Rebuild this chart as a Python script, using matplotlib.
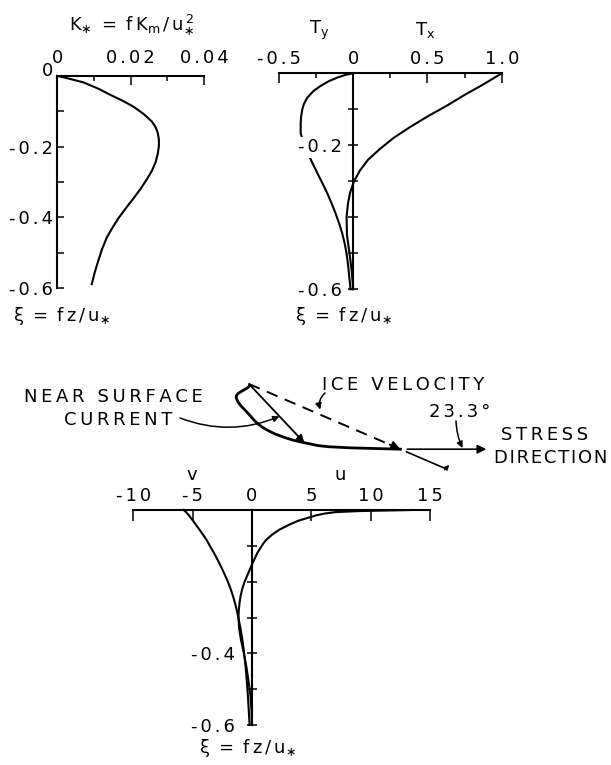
import numpy as np
import matplotlib
matplotlib.use('Agg')
import matplotlib.pyplot as plt
from matplotlib.ticker import FixedLocator, FixedFormatter

plt.rcParams['font.family'] = ['DejaVu Sans']
plt.rcParams['mathtext.default'] = 'regular'
plt.rcParams['axes.unicode_minus'] = False

# ---------------- data ----------------
# eddy viscosity profile K* vs xi
xi_k = [0, -0.006, -0.018, -0.035, -0.053, -0.070, -0.087, -0.108, -0.129, -0.145, -0.161, -0.180,
        -0.198, -0.220, -0.244, -0.268, -0.291, -0.318, -0.346, -0.374, -0.402, -0.430, -0.457,
        -0.490, -0.522, -0.556, -0.589]
k_star = [0, 0.0026, 0.0071, 0.0110, 0.0144, 0.0178, 0.0208, 0.0236, 0.0258, 0.0268, 0.0274, 0.0277,
          0.0277, 0.0274, 0.0268, 0.0258, 0.0245, 0.0228, 0.0208, 0.0187, 0.0167, 0.0150, 0.0135,
          0.0122, 0.0112, 0.0102, 0.0094]

# stress components
xi_tx = [0, -0.02, -0.037, -0.06, -0.09, -0.12, -0.15, -0.18, -0.21, -0.24, -0.27, -0.30,
         -0.33, -0.36, -0.40, -0.45, -0.50, -0.55, -0.60]
tx = [1.0, 0.92, 0.85, 0.75, 0.63, 0.50, 0.38, 0.27, 0.18, 0.10, 0.045, 0.005,
      -0.02, -0.035, -0.045, -0.042, -0.025, -0.01, 0.0]
xi_ty = [0, -0.004, -0.012, -0.022, -0.035, -0.05, -0.068, -0.085, -0.10, -0.12, -0.138, -0.166,
         -0.195, -0.223, -0.25, -0.277, -0.305, -0.333, -0.361, -0.389, -0.417, -0.445,
         -0.472, -0.50, -0.528, -0.556, -0.60]
ty = [0, -0.05, -0.108, -0.165, -0.22, -0.27, -0.31, -0.332, -0.343, -0.351, -0.354, -0.354,
      -0.335, -0.305, -0.274, -0.242, -0.208, -0.175, -0.146, -0.119, -0.095, -0.074,
      -0.058, -0.045, -0.036, -0.029, -0.018]

# velocity components
xi_uv = [0, -0.003, -0.006, -0.01, -0.015, -0.02, -0.03, -0.04, -0.055, -0.07, -0.085, -0.10,
         -0.12, -0.14, -0.16, -0.18, -0.20, -0.22, -0.24, -0.26, -0.28, -0.30, -0.33, -0.36,
         -0.40, -0.44, -0.48, -0.52, -0.56, -0.60]
u = [13.4, 9.0, 7.0, 6.1, 5.4, 4.9, 3.9, 3.2, 2.3, 1.65, 1.15, 0.82,
     0.45, 0.17, -0.10, -0.36, -0.62, -0.82, -0.96, -1.05, -1.11, -1.14, -1.08, -0.94,
     -0.68, -0.46, -0.28, -0.12, -0.04, 0.0]
v = [-5.77, -5.65, -5.55, -5.45, -5.30, -5.20, -4.97, -4.75, -4.42, -4.10, -3.80, -3.55,
     -3.20, -2.88, -2.58, -2.30, -2.03, -1.80, -1.60, -1.43, -1.28, -1.15, -0.97, -0.82,
     -0.66, -0.53, -0.43, -0.34, -0.27, -0.20]
near_surface_index = 5          # xi = -0.02
stress_angle_label = '23.3°'

# tick labels
k_ticks = [0, 0.02, 0.04]
k_ticklabels = ['0', '0.02', '0.04']
t_ticks = [-0.5, 0, 0.5, 1.0]
t_ticklabels = ['-0.5', '0', '0.5', '1.0']
uv_ticks = [-10, -5, 0, 5, 10, 15]
uv_ticklabels = ['-10', '-5', '0', '5', '10', '15']

# ---------------- layout helpers ----------------
W, H = 611, 765
fig = plt.figure(figsize=(W / 100, H / 100), dpi=100)


def rect(x0, x1, y0, y1):
    return [x0 / W, 1 - y1 / H, (x1 - x0) / W, (y1 - y0) / H]


def P(x, y):
    return (x / W, 1 - y / H)


def sp(s, gap='\u2009'):
    return gap.join(s)


FS = 13
LW = 1.5
SLW = 1.5


def base_style(ax):
    for s in ['right', 'bottom']:
        ax.spines[s].set_visible(False)
    for s in ['top', 'left']:
        ax.spines[s].set_linewidth(SLW)
    ax.xaxis.tick_top()
    ax.yaxis.tick_left()
    ax.patch.set_visible(False)
    ax.set_axisbelow(False)
    ax.set_ylim(-0.6, 0)


# ---------------- panel 1: K* ----------------
ax1 = fig.add_axes(rect(57.3, 204, 76, 288))
base_style(ax1)
ax1.plot(k_star, xi_k, color='k', lw=LW, clip_on=False)
ax1.set_xlim(0, 0.04)
ax1.xaxis.set_major_locator(FixedLocator(k_ticks))
ax1.xaxis.set_major_formatter(FixedFormatter([sp(t, '\u2006') for t in k_ticklabels]))
ax1.xaxis.set_minor_locator(FixedLocator([0.01, 0.03]))
ax1.tick_params(axis='x', which='major', direction='in', length=6.5, width=1.1, pad=6.5, labelsize=FS)
ax1.tick_params(axis='x', which='minor', direction='in', length=3.6, width=1.1)
ax1.yaxis.set_major_locator(FixedLocator([-0.2, -0.4, -0.6]))
ax1.yaxis.set_major_formatter(FixedFormatter([sp('-0.2', '\u2006'), sp('-0.4', '\u2006'),
                                              sp('-0.6', '\u2006')]))
ax1.yaxis.set_minor_locator(FixedLocator([-0.1, -0.3, -0.5]))
ax1.tick_params(axis='y', which='both', direction='in', length=5, width=1.1, pad=3, labelsize=FS)
ax1.annotate('0', xy=(0, 0), xytext=(-4, 5), textcoords='offset pixels',
             ha='right', va='center', fontsize=FS)

fig.text(*P(132, 25), r'$K_{\ast}\ =\ f\,K_m\,/\,u_{\ast}^{\,2}$', ha='center', va='center', fontsize=FS)
fig.text(*P(61, 316), r'$\xi\ =\ f\,z\,/\,u_{\ast}$', ha='center', va='center', fontsize=FS)

# ---------------- panel 2: stress ----------------
ax2 = fig.add_axes(rect(279, 501.7, 73.3, 289.3))
base_style(ax2)
ax2.spines['left'].set_position(('data', 0))
ax2.plot(tx, xi_tx, color='k', lw=LW, clip_on=False)
ax2.plot(ty, xi_ty, color='k', lw=LW, clip_on=False)
ax2.set_xlim(-0.5, 1.0)
ax2.xaxis.set_major_locator(FixedLocator(t_ticks))
ax2.xaxis.set_major_formatter(FixedFormatter([sp(t, '\u2006') for t in t_ticklabels]))
ax2.xaxis.set_minor_locator(FixedLocator([-0.25, 0.25, 0.75]))
ax2.tick_params(axis='x', which='major', direction='in', length=7.2, width=1.1, pad=3.6, labelsize=FS)
ax2.tick_params(axis='x', which='minor', direction='in', length=3.6, width=1.1)
ax2.yaxis.set_major_locator(FixedLocator([-0.2, -0.6]))
ax2.yaxis.set_major_formatter(FixedFormatter([sp('-0.2', '\u2006'), sp('-0.6', '\u2006')]))
ax2.yaxis.set_minor_locator(FixedLocator([-0.1, -0.3, -0.4, -0.5]))
ax2.tick_params(axis='y', which='both', direction='inout', length=7.2, width=1.1, pad=4.3, labelsize=FS)
for lab in ax2.get_yticklabels():
    lab.set_bbox(dict(facecolor='white', edgecolor='none', pad=1))

fig.text(*P(319, 30), r'$T_y$', ha='center', va='center', fontsize=FS)
fig.text(*P(425, 30), r'$T_x$', ha='center', va='center', fontsize=FS)
fig.text(*P(343, 316), r'$\xi\ =\ f\,z\,/\,u_{\ast}$', ha='center', va='center', fontsize=FS)

# ---------------- panel 3: velocity ----------------
ax3 = fig.add_axes(rect(133.3, 430, 510, 725))
base_style(ax3)
ax3.spines['left'].set_position(('data', 0))
ax3.plot(u, xi_uv, color='k', lw=LW, clip_on=False)
ax3.plot(v, xi_uv, color='k', lw=LW, clip_on=False)
ax3.set_xlim(-10, 15)
ax3.xaxis.set_major_locator(FixedLocator(uv_ticks))
ax3.xaxis.set_major_formatter(FixedFormatter([sp(t, '\u2006') for t in uv_ticklabels]))
ax3.tick_params(axis='x', which='major', direction='in', length=8, width=1.1, pad=3.6, labelsize=FS)
ax3.yaxis.set_major_locator(FixedLocator([-0.4, -0.6]))
ax3.yaxis.set_major_formatter(FixedFormatter([sp('-0.4', '\u2006'), sp('-0.6', '\u2006')]))
ax3.yaxis.set_minor_locator(FixedLocator([-0.1, -0.2, -0.3, -0.5]))
ax3.tick_params(axis='y', which='both', direction='inout', length=7.2, width=1.1, pad=8.6, labelsize=FS)

fig.text(*P(192, 475), 'v', ha='center', va='center', fontsize=FS)
fig.text(*P(340, 475), 'u', ha='center', va='center', fontsize=FS)
fig.text(*P(247, 748), r'$\xi\ =\ f\,z\,/\,u_{\ast}$', ha='center', va='center', fontsize=FS)

# ---------------- hodograph ----------------
ax_h = fig.add_axes(rect(215.1, 497.6, 350.1, 480.05))
ax_h.set_xlim(-3, 22)
ax_h.set_ylim(-8.5, 3)
ax_h.axis('off')
ax_h.plot(u, v, color='k', lw=2.0, clip_on=False)

u0, v0 = u[0], v[0]
# ice velocity (dashed) with head
ax_h.plot([0, u0 * 0.95], [0, v0 * 0.95], color='k', lw=1.4, ls=(0, (6, 4)))
ax_h.annotate('', xy=(u0, v0), xytext=(u0 * 0.93, v0 * 0.93),
              arrowprops=dict(arrowstyle='-|>', color='k', lw=1.4, mutation_scale=13,
                              shrinkA=0, shrinkB=0))
# near surface current vector
ax_h.annotate('', xy=(u[near_surface_index], v[near_surface_index]), xytext=(0, 0),
              arrowprops=dict(arrowstyle='-|>', color='k', lw=1.3, mutation_scale=11,
                              shrinkA=0, shrinkB=0))
# stress direction
ax_h.annotate('', xy=(u0 + 7.6, v0), xytext=(u0 + 0.6, v0),
              arrowprops=dict(arrowstyle='-|>', color='k', lw=1.2, mutation_scale=13,
                              shrinkA=0, shrinkB=0))
# extension of ice velocity direction
ax_h.plot([u0 * 1.04, u0 * 1.30], [v0 * 1.04, v0 * 1.30], color='k', lw=1.2)
ax_h.annotate('', xy=(u0 * 1.30 + 0.3, v0 * 1.30 + 0.35), xytext=(u0 * 1.30 - 0.1, v0 * 1.30 - 0.1),
              arrowprops=dict(arrowstyle='-|>', color='k', lw=1.0, mutation_scale=7,
                              shrinkA=0, shrinkB=0))

# labels
fig.text(*P(322, 385), sp('ICE VELOCITY'), ha='left', va='center', fontsize=FS)
ax_h.annotate('', xy=(u0 * 0.47, v0 * 0.47 + 0.45), xytext=P(325, 393), textcoords='figure fraction',
              arrowprops=dict(arrowstyle='-|>', color='k', lw=1.1, mutation_scale=9,
                              connectionstyle='arc3,rad=0.3', shrinkA=0, shrinkB=0))
fig.text(*P(203, 397), sp('NEAR SURFACE'), ha='right', va='center', fontsize=FS)
fig.text(*P(172, 420), sp('CURRENT'), ha='right', va='center', fontsize=FS)
ax_h.annotate('', xy=(u[near_surface_index] * 0.55, v[near_surface_index] * 0.55),
              xytext=P(180, 418), textcoords='figure fraction',
              arrowprops=dict(arrowstyle='-|>', color='k', lw=1.1, mutation_scale=9,
                              connectionstyle='arc3,rad=0.2', shrinkA=0, shrinkB=0))
fig.text(*P(460, 412), sp(stress_angle_label, '\u2006'), ha='center', va='center', fontsize=FS)
ax_h.annotate('', xy=(u0 + 5.5, v0 + 0.1), xytext=P(456, 421), textcoords='figure fraction',
              arrowprops=dict(arrowstyle='-|>', color='k', lw=1.1, mutation_scale=9,
                              connectionstyle='arc3,rad=0.1', shrinkA=0, shrinkB=0))
fig.text(*P(588, 435), sp('STRESS'), ha='right', va='center', fontsize=FS)
fig.text(*P(607, 458), sp('DIRECTION', '\u200a'), ha='right', va='center', fontsize=FS)

fig.savefig('out.png', dpi=100)
